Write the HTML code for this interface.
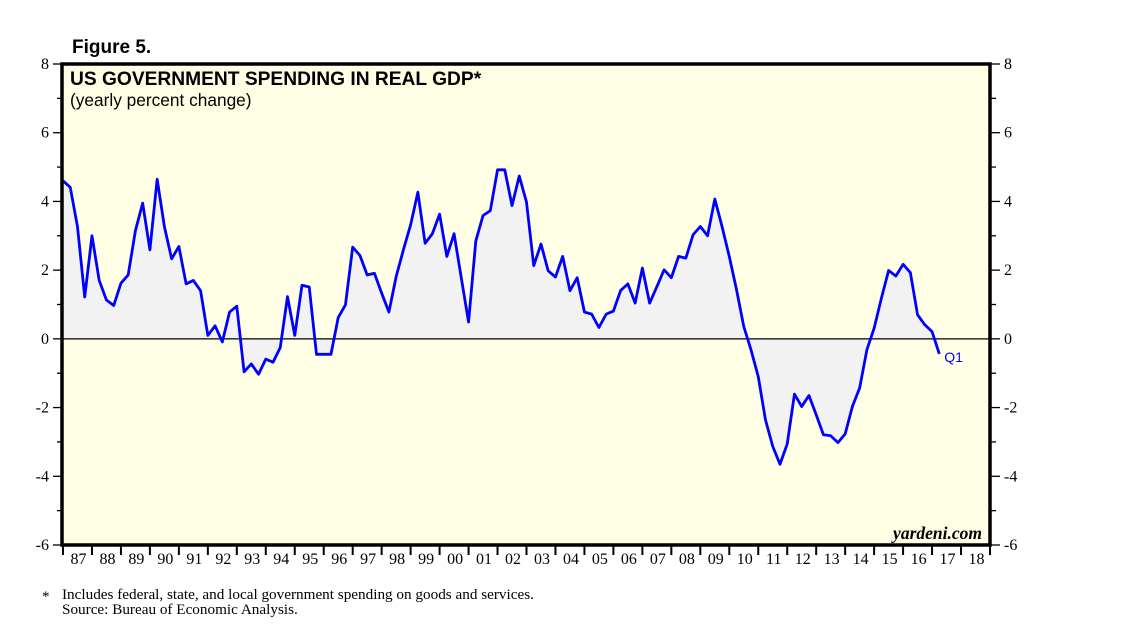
<!DOCTYPE html>
<html><head><meta charset="utf-8"><style>
body{margin:0;background:#fff;}
svg{display:block;}
.ser{font-family:"Liberation Serif",serif;}
.sans{font-family:"Liberation Sans",sans-serif;}
</style></head><body>
<svg id="chart" width="1138" height="641" xmlns="http://www.w3.org/2000/svg">
<text x="72" y="53" class="sans" font-size="19" font-weight="bold" fill="#000">Figure 5.</text>
<rect x="62" y="64" width="928" height="481" fill="#ffffe6"/>
<g id="marks"></g>
<g id="axes"></g>
<rect x="62" y="64" width="928" height="481" fill="none" stroke="#000" stroke-width="3.5"/>
<text x="70" y="85" class="sans" font-size="19.2" font-weight="bold">US GOVERNMENT SPENDING IN REAL GDP*</text>
<text x="70" y="106" class="sans" font-size="17.3">(yearly percent change)</text>
<text x="982" y="539" class="ser" font-size="17.5" font-style="italic" font-weight="bold" text-anchor="end">yardeni.com</text>
<text x="42" y="601" class="ser" font-size="15">*</text>
<text x="62" y="599" class="ser" font-size="15.2">Includes federal, state, and local government spending on goods and services.</text>
<text x="62" y="614" class="ser" font-size="15.2">Source: Bureau of Economic Analysis.</text>
</svg>
<script>
const startYear = 1987;
const values = [4.6,4.41,3.27,1.22,3.0,1.70,1.13,0.97,1.62,1.86,3.15,3.95,2.59,4.65,3.27,2.33,2.69,1.60,1.70,1.40,0.10,0.38,-0.09,0.78,0.95,-0.96,-0.73,-1.03,-0.59,-0.68,-0.25,1.23,0.10,1.56,1.51,-0.45,-0.45,-0.45,0.62,0.99,2.67,2.43,1.86,1.91,1.33,0.78,1.81,2.59,3.32,4.27,2.78,3.06,3.63,2.40,3.06,1.77,0.49,2.85,3.59,3.73,4.92,4.92,3.88,4.74,3.98,2.13,2.76,1.98,1.80,2.40,1.40,1.78,0.78,0.72,0.33,0.72,0.81,1.41,1.60,1.04,2.06,1.04,1.52,2.01,1.78,2.40,2.35,3.03,3.27,3.0,4.07,3.27,2.40,1.43,0.36,-0.32,-1.10,-2.36,-3.13,-3.65,-3.06,-1.61,-1.97,-1.65,-2.21,-2.79,-2.82,-3.02,-2.77,-1.97,-1.43,-0.32,0.31,1.18,1.99,1.83,2.17,1.93,0.70,0.41,0.21,-0.44];
const yTicks = [-6,-4,-2,0,2,4,6,8];
const yearLabels = ["87","88","89","90","91","92","93","94","95","96","97","98","99","00","01","02","03","04","05","06","07","08","09","10","11","12","13","14","15","16","17","18"];
const NS="http://www.w3.org/2000/svg";
const X0=63, X1=990, Y0=545, Y1=64, YMIN=-6, YMAX=8;
const xS = t => X0 + (t-startYear)*(X1-X0)/yearLabels.length;
const yS = v => Y0 - (v-YMIN)*(Y0-Y1)/(YMAX-YMIN);
function mk(tag, attrs, parent){const e=document.createElementNS(NS,tag);for(const k in attrs)e.setAttribute(k,attrs[k]);parent.appendChild(e);return e;}
const marks=document.getElementById('marks'), axes=document.getElementById('axes');
const pts = values.map((v,i)=>[xS(startYear+i/4), yS(v)]);
const y0 = yS(0);
let area = `M${pts[0][0]},${y0} ` + pts.map(p=>`L${p[0]},${p[1]}`).join(' ') + ` L${pts[pts.length-1][0]},${y0} Z`;
const a = mk('path',{d:area,fill:'#f2f2f2'},marks);


const zl = mk('line',{x1:X0,x2:X1,y1:y0,y2:y0,stroke:'#000','stroke-width':1.2},marks);


const ln = mk('path',{d:'M'+pts.map(p=>p.join(',')).join(' L'),fill:'none',stroke:'#0000ff','stroke-width':2.8,'stroke-linejoin':'round'},marks);


const last = pts[pts.length-1];
const q = mk('text',{x:last[0]+5,y:last[1]+8,fill:'#0000ff','font-size':14,'font-family':'Liberation Sans, sans-serif'},marks);
q.textContent='Q1';


for(let v=YMIN; v<=YMAX; v++){
  const y=yS(v), major = yTicks.includes(v);
  const len = major?10:6;
  const t1=mk('line',{x1:X0-len,x2:X0,y1:y,y2:y,stroke:'#000','stroke-width':1.3},axes);
  
  
  const t2=mk('line',{x1:X1,x2:X1+len,y1:y,y2:y,stroke:'#000','stroke-width':1.3},axes);
  
  
  if(major){
    const l=mk('text',{x:X0-14,y:y+5,'text-anchor':'end','font-size':16,'font-family':'Liberation Serif, serif'},axes);
    l.textContent=String(v);
    
    
    const r=mk('text',{x:X1+14,y:y+5,'font-size':16,'font-family':'Liberation Serif, serif'},axes);
    r.textContent=String(v);
    
    
  }
}
yearLabels.forEach((lab,i)=>{
  const x=xS(startYear+i);
  const t=mk('line',{x1:x,x2:x,y1:Y0,y2:Y0+10,stroke:'#000','stroke-width':2},axes);
  
  
  const l=mk('text',{x:xS(startYear+i+0.5)+1,y:Y0+19,'text-anchor':'middle','font-size':16,'font-family':'Liberation Serif, serif'},axes);
  l.textContent=lab;
  
  
});
const tEnd=mk('line',{x1:X1,x2:X1,y1:Y0,y2:Y0+10,stroke:'#000','stroke-width':2},axes);


</script>
</body></html>
